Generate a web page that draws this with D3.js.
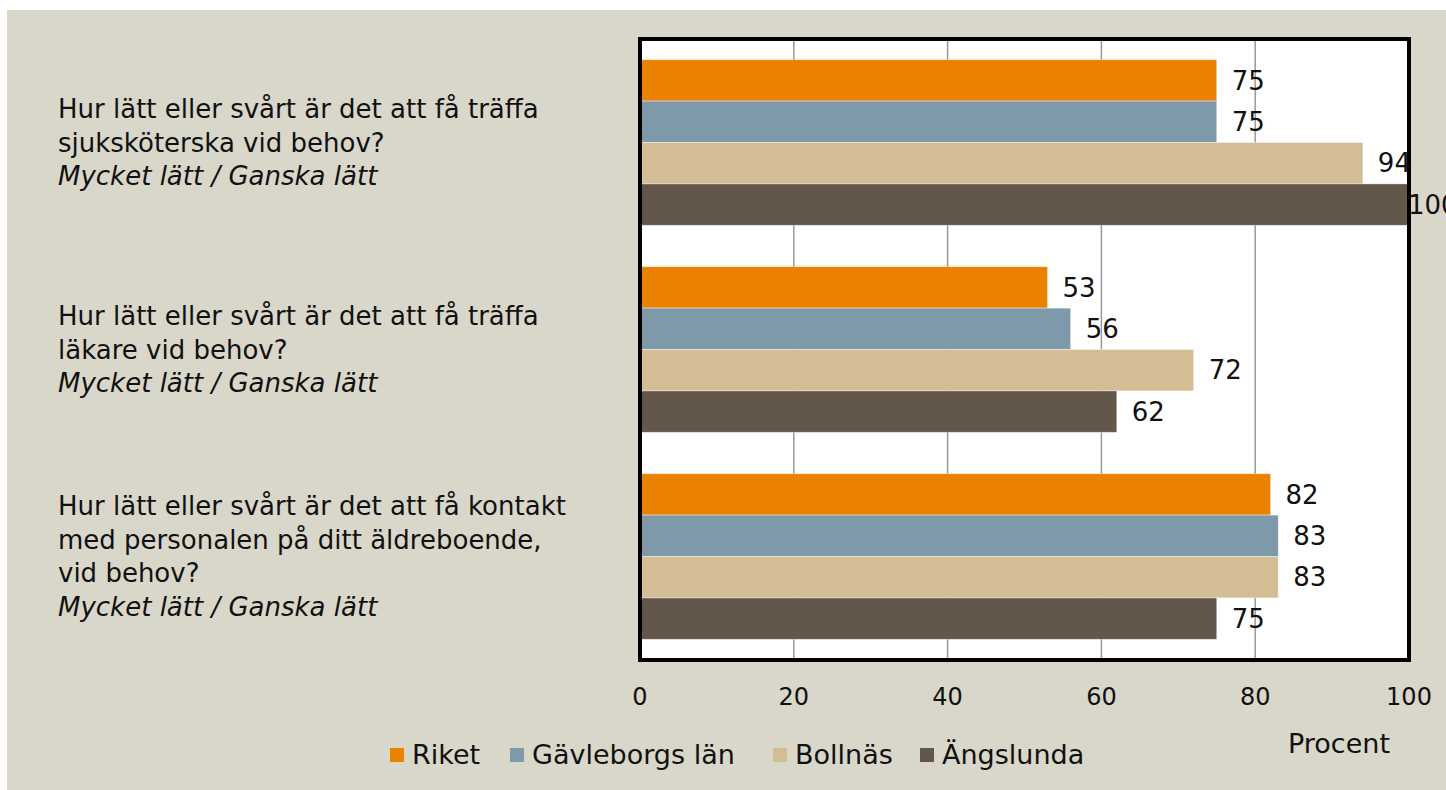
<!DOCTYPE html>
<html>
<head>
<meta charset="utf-8">
<style>
  body { margin: 0; background: #fff; }
  svg text { font-family: "DejaVu Sans", sans-serif; fill: #111; }
</style>
</head>
<body>
<svg id="chart"></svg>
<script src="https://d3js.org/d3.v7.min.js"></script>
<script>
var width = 1446, height = 790;

// data
var questions = ["q1", "q2", "q3"];
var questionLines = [
    ["Hur lätt eller svårt är det att få träffa", "sjuksköterska vid behov?"],
    ["Hur lätt eller svårt är det att få träffa", "läkare vid behov?"],
    ["Hur lätt eller svårt är det att få kontakt", "med personalen på ditt äldreboende,", "vid behov?"]
];
var subLine = "Mycket lätt / Ganska lätt";
var series = ["Riket", "Gävleborgs län", "Bollnäs", "Ängslunda"];
var riket = [75, 53, 82];
var gavleborg = [75, 56, 83];
var bollnas = [94, 72, 83];
var angslunda = [100, 62, 75];
var xTicks = [0, 20, 40, 60, 80, 100];
var colors = ["#ea8200", "#7e9aaa", "#d3bd94", "#63564b"];

var values = [riket, gavleborg, bollnas, angslunda];

var svg = d3.select("#chart").attr("width", width).attr("height", height);

svg.append("rect").attr("x", 7).attr("y", 10)
    .attr("width", width - 7).attr("height", height - 10)
    .attr("fill", "#d9d7ca");

var plot = { left: 640, right: 1409, top: 39, bottom: 660 };

var x = d3.scaleLinear().domain([0, 100]).range([plot.left, plot.right]);
var y = d3.scaleBand().domain(questions).range([plot.top, plot.bottom]);
var y1 = d3.scaleBand().domain(series)
    .range([y.bandwidth() * 0.1, y.bandwidth() * 0.9]);
var color = d3.scaleOrdinal().domain(series).range(colors);

// plot background
svg.append("rect")
    .attr("x", plot.left).attr("y", plot.top)
    .attr("width", plot.right - plot.left).attr("height", plot.bottom - plot.top)
    .attr("fill", "#fff");

// grid
svg.selectAll(".grid")
    .data(xTicks.slice(1, -1))
    .enter()
    .append("line")
    .attr("x1", d => x(d)).attr("x2", d => x(d))
    .attr("y1", plot.top).attr("y2", plot.bottom)
    .attr("stroke", "#999")
    .attr("stroke-width", 1.5);

var rows = [];
questions.forEach((q, i) => {
    series.forEach((s, j) => {
        rows.push({ q: q, s: s, v: values[j][i] });
    });
});

svg.selectAll(".bar")
    .data(rows)
    .enter()
    .append("rect")
    .attr("x", x(0))
    .attr("y", d => y(d.q) + y1(d.s))
    .attr("width", d => x(d.v) - x(0))
    .attr("height", y1.bandwidth())
    .attr("fill", d => color(d.s))
    .attr("stroke", "rgba(255,255,255,0.5)")
    .attr("stroke-width", 0.8);

// frame
svg.append("rect")
    .attr("x", plot.left).attr("y", plot.top)
    .attr("width", plot.right - plot.left).attr("height", plot.bottom - plot.top)
    .attr("fill", "none")
    .attr("stroke", "#000")
    .attr("stroke-width", 4);

// value labels
svg.selectAll(".val")
    .data(rows)
    .enter()
    .append("text")
    .attr("x", d => Math.min(x(d.v) + 15, x(100) - 1))
    .attr("y", d => y(d.q) + y1(d.s) + y1.bandwidth() / 2)
    .attr("dy", "0.35em")
    .attr("font-size", 26)
    .text(d => d.v);

// x tick labels
svg.selectAll(".tick")
    .data(xTicks)
    .enter()
    .append("text")
    .attr("x", d => x(d))
    .attr("y", 697)
    .attr("dy", "0.35em")
    .attr("text-anchor", "middle")
    .attr("font-size", 24)
    .text(d => d);

svg.append("text")
    .attr("x", 1390).attr("y", 744)
    .attr("dy", "0.35em")
    .attr("text-anchor", "end")
    .attr("font-size", 27)
    .text("Procent");

// question labels
var lineH = 33.5;
questions.forEach((q, i) => {
    var lines = questionLines[i].concat([subLine]);
    var cy = y(q) + y.bandwidth() / 2;
    var top = cy - (lines.length - 1) * lineH / 2;
    var t = svg.append("text")
        .attr("x", 58)
        .attr("font-size", 26);
    lines.forEach((l, k) => {
        t.append("tspan")
            .attr("x", 58)
            .attr("y", top + k * lineH)
            .attr("dy", "0.35em")
            .attr("font-style", k == lines.length - 1 ? "italic" : "normal")
            .text(l);
    });
});

// legend
var legendX = [390, 510, 773, 920];
var legend = svg.selectAll(".legend")
    .data(series)
    .enter()
    .append("g")
    .attr("transform", (d, i) => "translate(" + legendX[i] + ",755)");
legend.append("rect")
    .attr("x", 0).attr("y", -7)
    .attr("width", 14).attr("height", 14)
    .attr("fill", d => color(d));
legend.append("text")
    .attr("x", 22)
    .attr("dy", "0.35em")
    .attr("font-size", 27)
    .text(d => d);
</script>
</body>
</html>
